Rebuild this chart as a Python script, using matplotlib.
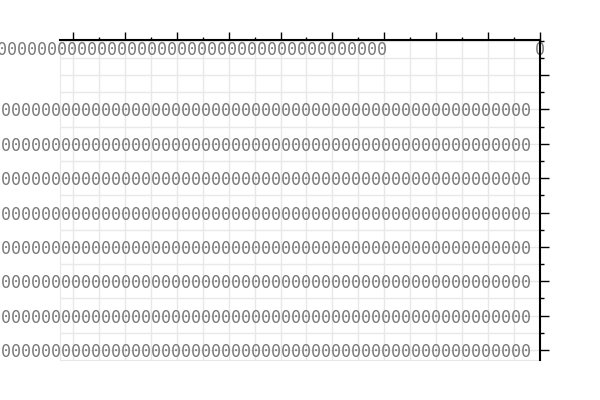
import matplotlib
matplotlib.use("Agg")
import matplotlib.pyplot as plt
from matplotlib.ticker import MultipleLocator

# axis layout
x_ticks = [0, 1, 2, 3, 4, 5, 6, 7, 8, 9]
x_labels = ["0" * 63, "", "", "", "", "", "", "", "", "0"]
x_range = (-0.25, 9.0)

y_ticks = [0, 1, 2, 3, 4, 5, 6, 7, 8]
y_labels = ["0" * 56] * 8 + [""]
y_range = (-0.29, 9.02)

TEXT = "#7a7a7a"
GRID = "#e8e8e8"
RECT = [0.1, 0.1, 0.8, 0.8]

fig = plt.figure(figsize=(6, 4), dpi=100)

# grid lives on its own axes underneath, so the labels sit on top of it
gax = fig.add_axes(RECT, zorder=0)
gax.set_xlim(*x_range)
gax.set_ylim(*y_range)
gax.set_xticks(x_ticks)
gax.set_yticks(y_ticks)
gax.xaxis.set_minor_locator(MultipleLocator(0.5))
gax.yaxis.set_minor_locator(MultipleLocator(0.5))
gax.grid(True, which="both", color=GRID, linewidth=1)
gax.tick_params(which="both", length=0, labelbottom=False, labelleft=False)
for side in gax.spines.values():
    side.set_color(GRID)

ax = fig.add_axes(RECT, zorder=1)
ax.patch.set_alpha(0)
ax.set_xlim(*x_range)
ax.set_ylim(*y_range)

ax.set_xticks(x_ticks)
ax.set_xticklabels(x_labels)
ax.set_yticks(y_ticks)
ax.set_yticklabels(y_labels)
ax.xaxis.set_minor_locator(MultipleLocator(0.5))
ax.yaxis.set_minor_locator(MultipleLocator(0.5))

# x axis on top, y axis on the right, labels pushed inside the plot
ax.xaxis.tick_top()
ax.yaxis.tick_right()
ax.tick_params(axis="x", which="major", length=6, width=1, color="black",
               pad=-20, labelsize=12, labelcolor=TEXT)
ax.tick_params(axis="x", which="minor", length=2.5, width=1, color="black")
ax.tick_params(axis="y", which="major", length=6.5, width=1, color="black",
               pad=-12, labelsize=12, labelcolor=TEXT)
ax.tick_params(axis="y", which="minor", length=3, width=1, color="black")
for lab in ax.get_yticklabels():
    lab.set_ha("right")
    lab.set_family("DejaVu Sans Mono")
for lab in ax.get_xticklabels():
    lab.set_family("DejaVu Sans Mono")

ax.spines["top"].set_color("black")
ax.spines["top"].set_linewidth(1.5)
ax.spines["right"].set_color("black")
ax.spines["right"].set_linewidth(1.5)
ax.spines["left"].set_visible(False)
ax.spines["bottom"].set_visible(False)

fig.savefig("out.png", dpi=100)
